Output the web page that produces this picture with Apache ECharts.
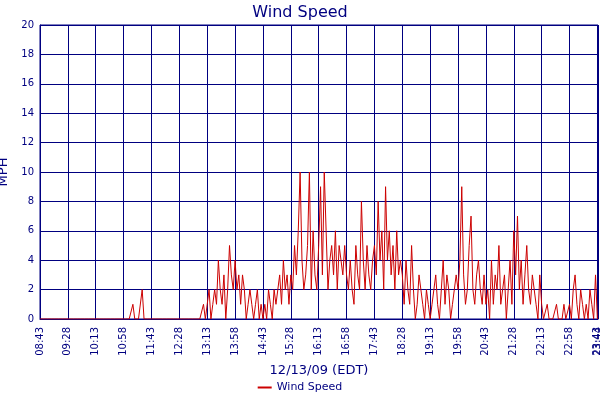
<!DOCTYPE html>
<html><head><meta charset="utf-8">
<script src="https://cdn.jsdelivr.net/npm/echarts@6/dist/echarts.min.js"></script>
<style>html,body{margin:0;padding:0;background:#fff}#c{width:600px;height:400px}</style>
</head><body><div id="c"></div>
<script>
// minutes after 08:43, 3-minute samples
const startLabel = "08:43";
const endLabel = "23:44";
const stepMinutes = 3;
const windSpeed = [
0,0,0,0,0,0,0,0,0,0,0,0,0,0,0,
0,0,0,0,0,0,0,0,0,0,0,0,0,0,0,
0,0,0,0,0,0,0,0,0,0,0,0,0,0,0,
0,0,0,0,0,1,0,0,0,0,2,0,0,0,0,
0,0,0,0,0,0,0,0,0,0,0,0,0,0,0,
0,0,0,0,0,0,0,0,0,0,0,0,0,1,0,
1,2,0,1,2,1,4,2,1,3,0,2,5,3,2,
4,2,3,1,3,2,0,1,2,1,0,1,2,0,1,
0,1,0,2,1,0,2,1,2,3,1,4,2,3,1,
3,2,5,3,6,10,4,2,3,5,10,2,6,3,2,
5,9,3,10,6,2,4,5,3,6,2,5,4,3,5,
3,2,4,2,1,5,3,2,8,4,2,5,3,2,4,
5,3,8,4,6,2,9,4,6,3,5,2,6,3,4,
3,1,4,2,1,5,2,0,1,3,2,1,0,2,1,
0,1,2,3,1,0,2,4,1,3,2,0,1,2,3,
2,4,9,3,1,2,5,7,2,1,3,4,2,1,3,
1,2,0,4,1,3,2,5,1,2,3,0,2,4,1,
6,3,7,2,4,1,3,5,2,1,3,2,1,0,3,
1,0,0,1,0,0,0,0,1,0,0,0,1,0,0,
1,0,2,3,1,0,2,1,0,1,0,2,1,0,3,
0];
const yTicks = [0,2,4,6,8,10,12,14,16,18,20];

const s0 = 8*60+43;
function fmt(m){const t=s0+Math.round(m);const h=Math.floor(t/60),mm=t%60;return String(h).padStart(2,'0')+':'+String(mm).padStart(2,'0');}
const pts = windSpeed.map((v,i)=>[i*stepMinutes, v]);
const navy = '#000080';
const lab = {rotate:90,color:navy,fontFamily:'DejaVu Sans',fontSize:10};
const chart = echarts.init(document.getElementById('c'));
chart.setOption({
  animation:false,
  backgroundColor:'#fff',
  title:{text:'Wind Speed',left:'center',top:0,textStyle:{color:navy,fontFamily:'DejaVu Sans',fontSize:16,fontWeight:'normal'}},
  grid:{left:40,right:2,top:25,bottom:81,show:true,borderColor:navy,borderWidth:1,containLabel:false,outerBoundsMode:'none'},
  legend:{bottom:2,left:'center',data:['Wind Speed'],icon:'rect',itemWidth:14,itemHeight:2,textStyle:{color:navy,fontFamily:'DejaVu Sans',fontSize:11}},
  xAxis:[{type:'value',min:0,max:901,interval:45,
    name:'12/13/09 (EDT)',nameLocation:'middle',nameGap:44,nameTextStyle:{color:navy,fontFamily:'DejaVu Sans',fontSize:13},
    axisLine:{lineStyle:{color:navy}},axisTick:{show:false},
    splitLine:{show:true,lineStyle:{color:navy,width:1}},
    axisLabel:Object.assign({showMaxLabel:false,formatter:v=>fmt(v)},lab)},
   {type:'value',position:'bottom',min:0,max:901,interval:901,
    axisLine:{show:false},axisTick:{show:false},splitLine:{show:false},
    axisLabel:Object.assign({showMinLabel:false,showMaxLabel:true,formatter:v=>v>0?endLabel:''},lab)}],
  yAxis:{type:'value',min:yTicks[0],max:yTicks[yTicks.length-1],interval:2,
    name:'MPH',nameLocation:'middle',nameGap:24,nameTextStyle:{color:navy,fontFamily:'DejaVu Sans',fontSize:13},
    axisLine:{show:true,lineStyle:{color:navy}},axisTick:{show:false},
    splitLine:{show:true,lineStyle:{color:navy,width:1}},
    axisLabel:{color:navy,fontFamily:'DejaVu Sans',fontSize:10,margin:6}},
  series:[{name:'Wind Speed',type:'line',data:pts,showSymbol:false,lineStyle:{color:'#cc0000',width:1},itemStyle:{color:'#cc0000'}}]
});
</script></body></html>
